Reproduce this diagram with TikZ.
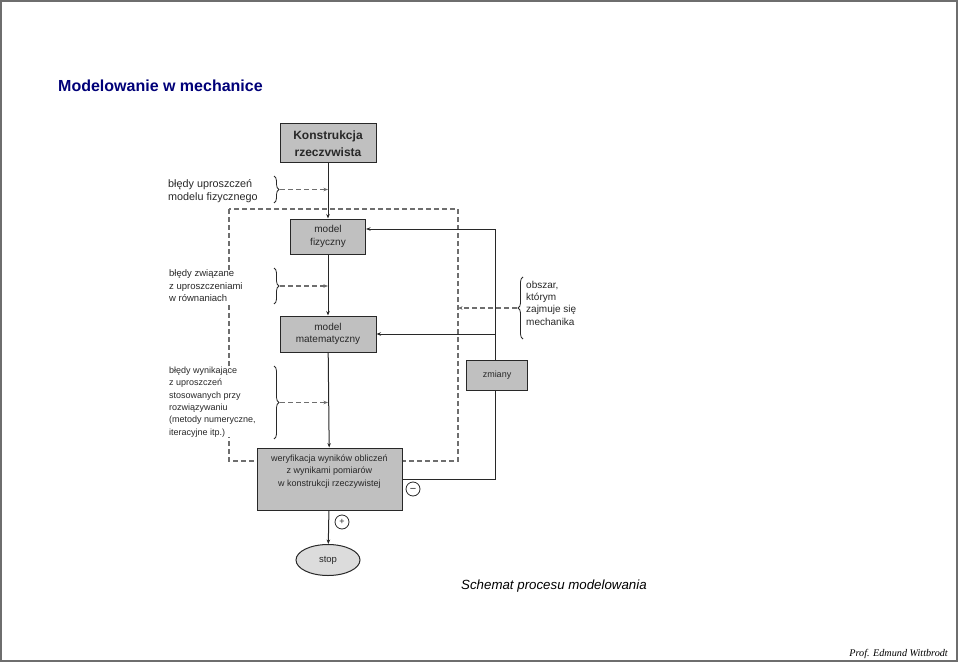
\documentclass[tikz,border=0pt]{standalone}
\usepackage{fontspec}
\setmainfont{Liberation Sans}
\newfontfamily\profserif{Liberation Serif}
\usetikzlibrary{arrows.meta,decorations.pathreplacing,shapes.geometric}
\definecolor{boxgray}{RGB}{192,192,192}
\definecolor{stopgray}{RGB}{220,220,220}
\definecolor{inkgray}{RGB}{40,40,40}
\definecolor{dashgray}{RGB}{110,110,110}
\definecolor{framegray}{RGB}{110,110,110}
\definecolor{titleblue}{RGB}{0,0,120}
\tikzset{
  box/.style={draw=inkgray,fill=boxgray,line width=1pt,inner sep=0pt,align=center,
    text=inkgray,font=\fontsize{10}{12.5}\selectfont},
  note/.style={anchor=west,inner sep=0pt,fill=white,align=left,text=inkgray},
  flow/.style={draw=inkgray,line width=1pt,-{Stealth[length=4.5pt,width=3.5pt]}},
  link/.style={draw=inkgray,line width=1pt},
  dashflow/.style={draw=dashgray,line width=1.1pt,dash pattern=on 5pt off 3pt,-{Stealth[length=4.5pt,width=3.5pt]}},
  dashframe/.style={draw=dashgray,line width=1.1pt,dash pattern=on 5pt off 3pt},
  bracket/.style={draw=inkgray,line width=0.8pt,decorate,decoration={brace,amplitude=5pt}},
  sign/.style={circle,draw=inkgray,line width=0.8pt,inner sep=0pt,minimum size=14pt,
    font=\fontsize{9}{9}\selectfont,text=inkgray}
}
\begin{document}
\begin{tikzpicture}[x=1pt,y=-1pt]
\path[use as bounding box] (0,0) rectangle (960,663);
\draw[framegray,line width=1.2pt] (1,1) rectangle (957,661);
\node[anchor=west,inner sep=0pt,text=titleblue,font=\bfseries\fontsize{16}{19}\selectfont] (title) at (58,86) {Modelowanie w mechanice};
\draw[dashframe] (229,209) rectangle (458,461);
\coordinate (frame) at (458,461);
\node[box,minimum width=96pt,minimum height=39pt,font=\bfseries\fontsize{12}{16.5}\selectfont] (konstrukcja) at (328,143.5) {Konstrukcja\\rzeczvwista};
\node[box,minimum width=75pt,minimum height=35pt] (fizyczny) at (328,236.5) {model\\fizyczny};
\node[box,minimum width=96pt,minimum height=36pt] (matematyczny) at (328,334) {model\\matematyczny};
\node[box,minimum width=145pt,minimum height=62pt] (weryfikacja) at (329.5,479) {};
\node[anchor=north,inner sep=0pt,align=center,text=inkgray,font=\fontsize{9}{12.5}\selectfont] (weryfikacjatxt) at ([yshift=-7pt]weryfikacja.north) {weryfikacja wyników obliczeń\\z wynikami pomiarów\\w konstrukcji rzeczywistej};
\node[box,minimum width=61pt,minimum height=30pt,font=\fontsize{9}{11}\selectfont] (zmiany) at (497,375) {zmiany};
\node[ellipse,draw=inkgray,fill=stopgray,line width=1pt,minimum width=64pt,minimum height=31pt,inner sep=0pt,text=inkgray,font=\fontsize{9.5}{11}\selectfont] (stop) at (328,560) {stop};
\node[sign,font=\fontsize{11}{11}\selectfont] (minus) at (413,489) {\raisebox{-3pt}[0pt][0pt]{−}};
\node[sign] (plus) at (342,522) {+};
\draw[flow] (konstrukcja) -- (fizyczny);
\draw[flow] (fizyczny) -- (matematyczny);
\draw[flow] (matematyczny) -- (weryfikacja);
\draw[flow] (weryfikacja) -- (stop);
\coordinate (back) at (495,229);
\draw[link] (weryfikacja.east) -| (zmiany.south -| back);
\draw[flow] (zmiany.north -| back) -- (back) -- (back -| fizyczny.east);
\draw[flow] (matematyczny.east -| back) -- (matematyczny.east);
\node[note,font=\fontsize{10.8}{12.3}\selectfont] (uproszczenia) at (168,191) {błędy uproszczeń\\modelu fizycznego};
\node[note,font=\fontsize{9.5}{12.5}\selectfont] (rownania) at (169,286) {błędy związane\\z uproszczeniami\\w równaniach};
\node[note,font=\fontsize{9}{12.3}\selectfont] (rozwiazanie) at (169,402) {błędy wynikające\\z uproszczeń\\stosowanych przy\\rozwiązywaniu\\(metody numeryczne,\\iteracyjne itp.)};
\node[note,font=\fontsize{10}{12.3}\selectfont] (obszar) at (526,303) {obszar,\\którym\\zajmuje się\\mechanika};
\draw[bracket] (274,176) -- (274,203);
\draw[bracket] (274,268) -- (274,304);
\draw[bracket] (274,366) -- (274,439);
\draw[bracket] (523,339) -- (523,277);
\coordinate (b1) at (280,189.5);
\coordinate (b2) at (280,286);
\coordinate (b3) at (280,402.5);
\coordinate (b4) at (517,308);
\draw[dashflow] (b1) -- (b1 -| konstrukcja.south);
\draw[dashflow] (b2) -- (b2 -| konstrukcja.south);
\draw[dashflow] (b3) -- (b3 -| konstrukcja.south);
\draw[dashflow] (b4) -- (b4 -| frame);
\node[anchor=west,inner sep=0pt,font=\itshape\fontsize{13.3}{16}\selectfont] (podpis) at (461,586) {Schemat procesu modelowania};
\node[anchor=east,inner sep=0pt,font=\profserif\itshape\fontsize{10.2}{12}\selectfont] (autor) at (948,654) {Prof. Edmund Wittbrodt};
\end{tikzpicture}
\end{document}
